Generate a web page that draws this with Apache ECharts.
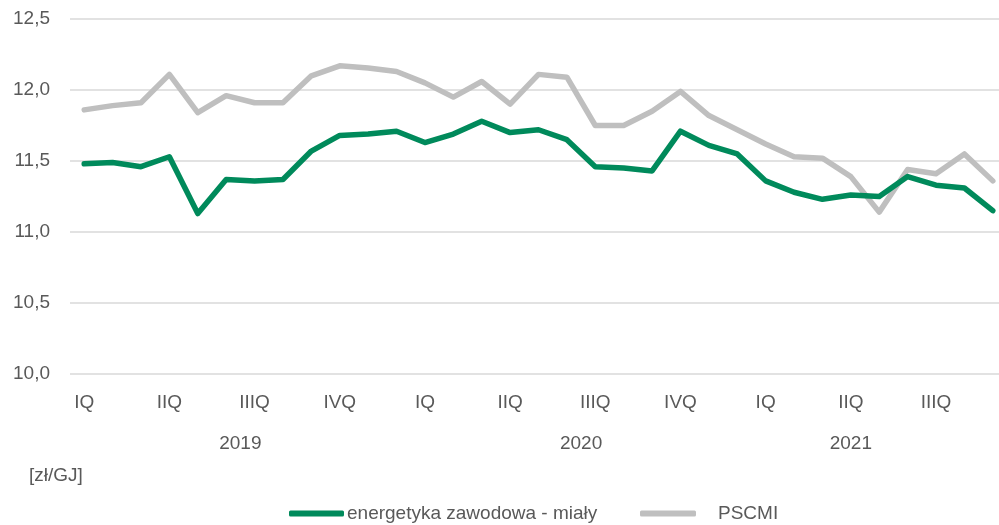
<!DOCTYPE html>
<html>
<head>
<meta charset="utf-8">
<script src="https://cdn.jsdelivr.net/npm/echarts@6/dist/echarts.min.js"></script>
<style>
  html, body { margin: 0; padding: 0; background: #fff; }
  #chart { width: 999px; height: 525px; }
</style>
</head>
<body>
<div id="chart"></div>
<script>
// months Jan 2019 .. Sep 2021
const months = [
  '2019-01','2019-02','2019-03','2019-04','2019-05','2019-06','2019-07','2019-08','2019-09','2019-10','2019-11','2019-12',
  '2020-01','2020-02','2020-03','2020-04','2020-05','2020-06','2020-07','2020-08','2020-09','2020-10','2020-11','2020-12',
  '2021-01','2021-02','2021-03','2021-04','2021-05','2021-06','2021-07','2021-08','2021-09'
]
const quarterLabels = ['IQ', 'IIQ', 'IIIQ', 'IVQ']
const years = ['2019', '2020', '2021']
const yearLabelAt = [5.5, 17.5, 27]

const energetyka = [
  11.48, 11.49, 11.46, 11.53, 11.13, 11.37, 11.36, 11.37, 11.57, 11.68, 11.69, 11.71,
  11.63, 11.69, 11.78, 11.70, 11.72, 11.65, 11.46, 11.45, 11.43, 11.71, 11.61, 11.55,
  11.36, 11.28, 11.23, 11.26, 11.25, 11.39, 11.33, 11.31, 11.15
]
const pscmi = [
  11.86, 11.89, 11.91, 12.11, 11.84, 11.96, 11.91, 11.91, 12.10, 12.17, 12.155, 12.13,
  12.05, 11.95, 12.06, 11.90, 12.11, 12.09, 11.75, 11.75, 11.85, 11.99, 11.82, 11.72,
  11.62, 11.53, 11.52, 11.39, 11.14, 11.44, 11.41, 11.55, 11.36
]

const textColor = '#595959'
const font = 'Liberation Sans'

const chart = echarts.init(document.getElementById('chart'))

chart.setOption({
  backgroundColor: '#fff',
  animation: false,
  textStyle: { fontFamily: font },
  title: {
    text: '[zł/GJ]',
    left: 24,
    top: 461,
    textStyle: { color: textColor, fontSize: 19, fontWeight: 'normal', fontFamily: font }
  },
  legend: [
    {
      data: ['energetyka zawodowa - miały'],
      left: 284,
      top: 499,
      icon: 'roundRect',
      itemWidth: 55,
      itemHeight: 6,
      textStyle: { color: textColor, fontSize: 19, fontFamily: font, padding: [0, 0, 0, -2] }
    },
    {
      data: ['PSCMI'],
      left: 635,
      top: 499,
      icon: 'roundRect',
      itemWidth: 56,
      itemHeight: 6,
      textStyle: { color: textColor, fontSize: 19, fontFamily: font, padding: [0, 0, 0, 17] }
    }
  ],
  grid: { left: 70, top: 19, width: 937, bottom: 151, outerBoundsMode: 'none' },
  xAxis: [
    {
      type: 'category',
      data: months,
      boundaryGap: true,
      axisLine: { show: false },
      axisTick: { show: false },
      axisLabel: {
        interval: 2,
        margin: 19,
        color: textColor,
        fontSize: 19,
        fontFamily: font,
        formatter: v => quarterLabels[Math.floor((Number(v.slice(5)) - 1) / 3)]
      }
    },
    {
      type: 'value',
      position: 'bottom',
      min: -0.5,
      max: months.length - 0.5,
      axisLine: { show: false },
      axisTick: { show: false },
      splitLine: { show: false },
      axisLabel: {
        customValues: yearLabelAt,
        margin: 60,
        color: textColor,
        fontSize: 19,
        fontFamily: font,
        formatter: v => years[yearLabelAt.indexOf(v)]
      }
    }
  ],
  yAxis: {
    type: 'value',
    min: 10,
    max: 12.5,
    interval: 0.5,
    axisLine: { show: false },
    axisTick: { show: false },
    axisLabel: {
      margin: 20,
      color: textColor,
      fontSize: 19,
      fontFamily: font,
      formatter: v => v.toFixed(1).replace('.', ',')
    },
    splitLine: { lineStyle: { color: '#D9D9D9', width: 1.5 } }
  },
  series: [
    {
      name: 'energetyka zawodowa - miały',
      type: 'line',
      data: energetyka,
      symbol: 'none',
      color: '#008A5B',
      lineStyle: { color: '#008A5B', width: 5.5, cap: 'round', join: 'round' },
      z: 3
    },
    {
      name: 'PSCMI',
      type: 'line',
      data: pscmi,
      symbol: 'none',
      color: '#BFBFBF',
      lineStyle: { color: '#BFBFBF', width: 5.5, cap: 'round', join: 'round' },
      z: 2
    }
  ]
})
</script>
</body>
</html>
